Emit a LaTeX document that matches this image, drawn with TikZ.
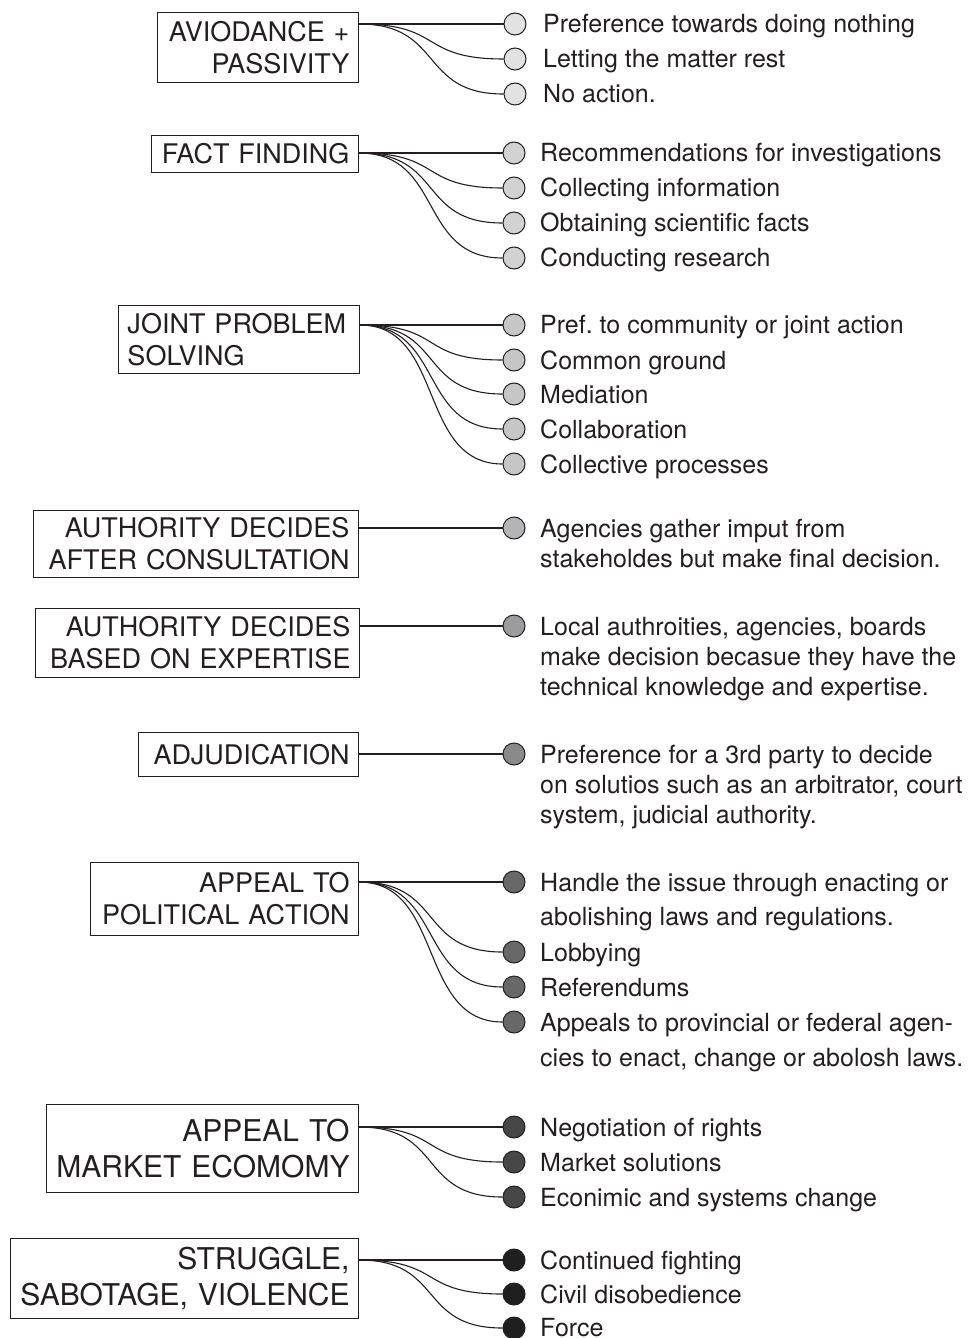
\documentclass[tikz,border=0pt]{standalone}
\usepackage{fontspec}
\setmainfont{TeX Gyre Heros}
\frenchspacing
\definecolor{ink}{HTML}{231F20}
\definecolor{ga}{HTML}{E2E2E2}
\definecolor{gb}{HTML}{D2D2D2}
\definecolor{gc}{HTML}{C6C6C6}
\definecolor{gd}{HTML}{B4B4B6}
\definecolor{ge}{HTML}{9C9C9E}
\definecolor{gf}{HTML}{8A8A8A}
\definecolor{gg}{HTML}{686868}
\definecolor{gh}{HTML}{474747}
\definecolor{gi}{HTML}{1F1F1F}
\tikzset{
  catbox/.style={draw=ink, line width=1bp, rectangle, inner xsep=9bp, inner ysep=0pt,
    anchor=north east, align=right, text=ink,
    font=\fontsize{27bp}{32bp}\selectfont},
  bigbox/.style={catbox, font=\fontsize{30bp}{36bp}\selectfont},
  dot/.style={circle, draw=ink, line width=1bp, minimum size=22bp, inner sep=0pt},
  item/.style={anchor=base west, inner sep=0pt, text=ink, font=\fontsize{25bp}{30bp}\selectfont},
  link/.style={draw=ink, line width=1.1bp}
}
\begin{document}
\begin{tikzpicture}[x=1bp, y=-1bp]
\useasboundingbox (0,0) rectangle (969,1338);

% ---------- Group 1
\node[catbox, text width=183bp, minimum height=70bp] (b1) at (359,12) {AVIODANCE +\\PASSIVITY};
\node[dot, fill=ga] (c11) at (515,24) {};
\node[dot, fill=ga] (c12) at (515,59) {};
\node[dot, fill=ga] (c13) at (515,94) {};
\node[item] (t11) at (543,33) {Preference towards doing nothing};
\node[item] (t12) at (543,68) {Letting the matter rest};
\node[item] (t13) at (543,103) {No action.};
\draw[link] (b1.east |- c11) -- (c11);
\draw[link] (b1.east |- c11) .. controls +(85,0) and +(-85,0) .. (c12.west);
\draw[link] (b1.east |- c11) .. controls +(85,0) and +(-85,0) .. (c13.west);

% ---------- Group 2
\node[catbox, text width=189bp, minimum height=37bp] (b2) at (359,135) {FACT FINDING};
\node[dot, fill=gb] (c21) at (514,153) {};
\node[dot, fill=gb] (c22) at (514,188) {};
\node[dot, fill=gb] (c23) at (514,223) {};
\node[dot, fill=gb] (c24) at (514,258) {};
\node[item] (t21) at (540,162) {Recommendations for investigations};
\node[item] (t22) at (540,197) {Collecting information};
\node[item] (t23) at (540,232) {Obtaining scientific facts};
\node[item] (t24) at (540,267) {Conducting research};
\draw[link] (b2.east |- c21) -- (c21);
\foreach \c in {c22,c23,c24}
  \draw[link] (b2.east |- c21) .. controls +(85,0) and +(-85,0) .. (\c.west);

% ---------- Group 3
\node[catbox, align=left, text width=223bp, minimum height=68bp] (b3) at (360,305) {JOINT PROBLEM\\SOLVING};
\node[dot, fill=gc] (c31) at (514,325) {};
\node[dot, fill=gc] (c32) at (514,360) {};
\node[dot, fill=gc] (c33) at (514,394) {};
\node[dot, fill=gc] (c34) at (514,429) {};
\node[dot, fill=gc] (c35) at (514,464) {};
\node[item] (t31) at (540,334) {Pref. to community or joint action};
\node[item] (t32) at (540,369) {Common ground};
\node[item] (t33) at (540,403) {Mediation};
\node[item] (t34) at (540,438) {Collaboration};
\node[item] (t35) at (540,473) {Collective processes};
\draw[link] (b3.east |- c31) -- (c31);
\foreach \c in {c32,c33,c34,c35}
  \draw[link] (b3.east |- c31) .. controls +(85,0) and +(-85,0) .. (\c.west);

% ---------- Group 4
\node[catbox, text width=307bp, minimum height=67bp] (b4) at (359,510) {AUTHORITY DECIDES\\AFTER CONSULTATION};
\node[dot, fill=gd] (c41) at (514,528) {};
\node[item] (t41) at (540,537) {Agencies gather imput from};
\node[item] (t42) at (540,567) {stakeholdes but make final decision.};
\draw[link] (b4.east |- c41) -- (c41);

% ---------- Group 5
\node[catbox, text width=306bp, minimum height=69bp] (b5) at (360,608) {AUTHORITY DECIDES\\BASED ON EXPERTISE};
\node[dot, fill=ge] (c51) at (514,626) {};
\node[item] (t51) at (540,635) {Local authroities, agencies, boards};
\node[item] (t52) at (540,665) {make decision becasue they have the};
\node[item] (t53) at (540,695) {technical knowledge and expertise.};
\draw[link] (b5.east |- c51) -- (c51);

% ---------- Group 6
\node[catbox, text width=202bp, minimum height=44bp] (b6) at (359,732) {ADJUDICATION};
\node[dot, fill=gf] (c61) at (514,754) {};
\node[item] (t61) at (540,763) {Preference for a 3rd party to decide};
\node[item] (t62) at (540,793) {on solutios such as an arbitrator, court};
\node[item] (t63) at (540,823) {system, judicial authority.};
\draw[link] (b6.east |- c61) -- (c61);

% ---------- Group 7
\node[catbox, text width=250bp, minimum height=73bp] (b7) at (359,862) {APPEAL TO\\POLITICAL ACTION};
\node[dot, fill=gg] (c71) at (514,882) {};
\node[dot, fill=gg] (c72) at (514,952) {};
\node[dot, fill=gg] (c73) at (514,987) {};
\node[dot, fill=gg] (c74) at (514,1022) {};
\node[item] (t71) at (540,891) {Handle the issue through enacting or};
\node[item] (t71b) at (540,925) {abolishing laws and regulations.};
\node[item] (t72) at (540,961) {Lobbying};
\node[item] (t73) at (540,996) {Referendums};
\node[item] (t74) at (540,1031) {Appeals to provincial or federal agen-};
\node[item] (t74b) at (540,1066) {cies to enact, change or abolosh laws.};
\draw[link] (b7.east |- c71) -- (c71);
\foreach \c in {c72,c73,c74}
  \draw[link] (b7.east |- c71) .. controls +(85,0) and +(-85,0) .. (\c.west);

% ---------- Group 8
\node[bigbox, text width=294bp, minimum height=88bp] (b8) at (359,1104) {APPEAL TO\\MARKET ECOMOMY};
\node[dot, fill=gh] (c81) at (514,1127) {};
\node[dot, fill=gh] (c82) at (514,1162) {};
\node[dot, fill=gh] (c83) at (514,1197) {};
\node[item] (t81) at (540,1136) {Negotiation of rights};
\node[item] (t82) at (540,1171) {Market solutions};
\node[item] (t83) at (540,1206) {Econimic and systems change};
\draw[link] (b8.east |- c81) -- (c81);
\foreach \c in {c82,c83}
  \draw[link] (b8.east |- c81) .. controls +(85,0) and +(-85,0) .. (\c.west);

% ---------- Group 9
\node[bigbox, text width=330bp, minimum height=80bp] (b9) at (359,1238) {STRUGGLE,\\SABOTAGE, VIOLENCE};
\node[dot, fill=gi] (c91) at (514,1260) {};
\node[dot, fill=gi] (c92) at (514,1294) {};
\node[dot, fill=gi] (c93) at (514,1328) {};
\node[item] (t91) at (540,1269) {Continued fighting};
\node[item] (t92) at (540,1303) {Civil disobedience};
\node[item] (t93) at (540,1336) {Force};
\draw[link] (b9.east |- c91) -- (c91);
\foreach \c in {c92,c93}
  \draw[link] (b9.east |- c91) .. controls +(85,0) and +(-85,0) .. (\c.west);
\end{tikzpicture}
\end{document}
